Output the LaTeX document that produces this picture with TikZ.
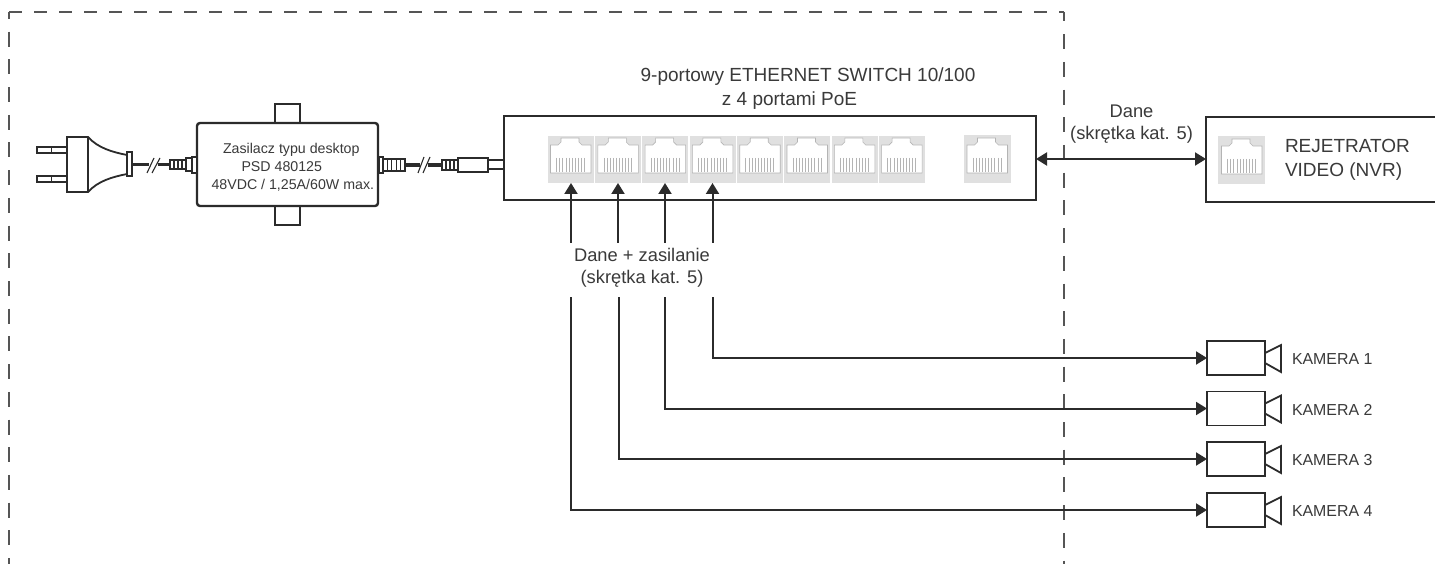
\documentclass[tikz,border=0pt]{standalone}
\usepackage{fontspec}
\setmainfont{Liberation Sans}
\usetikzlibrary{arrows.meta,calc}
\definecolor{ink}{HTML}{2B2B2B}
\definecolor{txt}{HTML}{3A3A3A}
\definecolor{dashc}{HTML}{555555}
\definecolor{portbg}{HTML}{E0E0E0}
\definecolor{portln}{HTML}{B4B4B4}
\tikzset{
  x=1pt,y=-1pt,
  every node/.style={inner sep=0pt,outer sep=0pt,text=txt},
  box/.style={draw=ink,line width=2.4pt,fill=white},
  thin box/.style={draw=ink,line width=1.8pt,fill=white},
  wire/.style={draw=ink,line width=2pt},
  arrowed/.style={wire,-{Triangle[length=11pt,width=13pt]}},
  both arrowed/.style={wire,{Triangle[length=11pt,width=13pt]}-{Triangle[length=11pt,width=13pt]}},
  hborder/.style={draw=dashc,line width=1.1pt,dash pattern=on 13pt off 12pt},
  vborder/.style={draw=dashc,line width=1.1pt,dash pattern=on 15pt off 12.7pt},
  label/.style={font=\fontsize{18.3}{22}\selectfont,align=center},
  portcell/.style={draw=none,fill=portbg,minimum width=47pt,minimum height=48pt},
  pics/jack/.style={code={
    \path[fill=white,draw=portln,line width=.6pt]
      (-20,14)--(-20,-14)--(-12.5,-14)--(-9.5,-17)--(-9.5,-21)--(8.5,-21)--(8.5,-17)--(11.5,-14)--(20.5,-14)--(20.5,14)--cycle;
    \foreach \i in {0,...,9} \draw[portln,line width=.6pt] ({-14+\i*3.1},-1)--({-14+\i*3.1},13);
  }},
  cambody/.style={thin box,minimum width=58pt,minimum height=34pt},
  caml/.style={font=\fontsize{15.9}{18}\selectfont,anchor=west},
  psut/.style={font=\fontsize{14.2}{17}\selectfont,anchor=west},
  relief/.style={draw=ink,line width=1.1pt,fill=white},
}
\newcommand{\relief}[5]{% x0 x1 ytop ybot n
  \foreach \k in {1,...,#5}{
    \path[relief] ({#1+(\k-1)*(#2-#1)/#5},#3) rectangle ({#1+\k*(#2-#1)/#5},#4);
  }
}
\begin{document}
\begin{tikzpicture}
\useasboundingbox[fill=white] (0,0) rectangle (1435,564);

% dashed zone
\coordinate (zoneBL) at (9,564);
\coordinate (zoneTL) at (9,12);
\coordinate (zoneTR) at (1064,12);
\coordinate (zoneBR) at (1064,564);
\draw[vborder,dash phase=8pt] (zoneTL) -- (zoneBL);
\draw[hborder] (zoneTL) -- (zoneTR);
\draw[vborder,dash phase=5.5pt] (zoneTR) -- (zoneBR);

% switch
\node[box,anchor=north west,minimum width=532pt,minimum height=84pt] (switch) at (504,116) {};
\foreach \n in {1,...,8}{
  \node[portcell,draw=white,line width=.4pt] (p\n) at ({570.5+(\n-1)*47.3},159) {};
  \pic at (p\n) {jack};
}
\node[portcell] (p9) at (987,159) {};
\pic at (p9) {jack};

% NVR
\path[box] (1437,117) -- (1206,117) -- (1206,202) -- (1437,202);
\coordinate (nvrW) at (1206,159);
\node[portcell] (p10) at (1241.5,160) {};
\pic at (p10) {jack};
\node[anchor=west,align=left,font=\fontsize{19}{24}\selectfont] (nvrT) at (1285,160) {REJETRATOR\\VIDEO (NVR)};

% labels
\node[label,font=\fontsize{19}{24}\selectfont] (title) at (808,77) {9-portowy ETHERNET SWITCH 10/100};
\node[label,font=\fontsize{19}{24}\selectfont] (titleb) at (789.5,101) {z 4 portami PoE};
\node[label] (dane) at (1131.5,124.5) {Dane\\(skrętka kat. 5)};
\node[label] (dz) at (642,267.5) {Dane + zasilanie\\(skrętka kat. 5)};

\draw[both arrowed] (p9 -| switch.east) -- (nvrW);

% cameras
\foreach \n/\y in {1/358,2/408.5,3/459,4/510}{
  \node[cambody] (cam\n) at (1236,\y) {};
  \path[thin box] ($(cam\n.east)+(0,-5)$) -- ($(cam\n.east)+(16,-13)$) -- ($(cam\n.east)+(16,14)$) -- ($(cam\n.east)+(0,5)$) -- cycle;
  \node[caml] (camt\n) at (1292,\y+1) {KAMERA \n};
}
% wires up and to cameras
\coordinate (up1) at (571,243);
\coordinate (up2) at (618,243);
\coordinate (up3) at (665,243);
\coordinate (up4) at (712.5,243);
\coordinate (low1) at (571,297);
\coordinate (low2) at (618.5,297);
\coordinate (low3) at (665,297);
\coordinate (low4) at (712.5,297);
\foreach \n in {1,...,4}{
  \draw[arrowed] (up\n) -- (up\n |- p\n.south);
}
\draw[arrowed] (low4) |- (cam1.west);
\draw[arrowed] (low3) |- (cam2.west);
\draw[arrowed] (low2) |- (cam3.west);
\draw[arrowed] (low1) |- (cam4.west);

% power supply
\path[box,fill=white] (275,123) -- (275,104) -- (300,104) -- (300,123);
\path[box,fill=white] (275,206) -- (275,225) -- (300,225) -- (300,206);
\node[box,rounded corners=3pt,anchor=north west,minimum width=181pt,minimum height=83pt] (psu) at (197,123) {};
\node[psut] (psuA) at (223,150) {Zasilacz typu desktop};
\node[psut] (psuB) at (241.5,167) {PSD 480125};
\node[psut] (psuC) at (211.5,185) {48VDC / 1,25A/60W max.};

% plug
\path[thin box,line width=1.4pt] (37,147) rectangle (67,153);
\path[thin box,line width=1.4pt] (37,176) rectangle (67,182);
\draw[ink,line width=1pt] (51,147)--(51,153) (51,176)--(51,182);
\path[thin box] (67,137) -- (88,137) .. controls (98,148) and (112,152) .. (127,155)
  -- (127,174) .. controls (112,177) and (98,181) .. (88,192) -- (67,192) -- cycle;
\draw[ink,line width=1.4pt] (88,137)--(88,192);
\path[thin box,line width=1.4pt] (127,152) rectangle (132,176);

% cable 1
\coordinate (c1a) at (132,164.5);
\coordinate (c1b) at (149,164.5);
\coordinate (c1c) at (158,164.5);
\coordinate (c1d) at (170,164.5);
\draw[ink,line width=3.4pt] (c1a) -- (c1b);
\draw[ink,line width=3.4pt] (c1c) -- (c1d);
\draw[ink,line width=1.1pt] (147,173)--(154,158) (152,173)--(160,158);
\relief{170}{186}{160}{169}{4}
\path[relief] (186,158) rectangle (192,171);
\path[relief] (192,157) rectangle (197,173);

% cable 2
\path[relief] (379,157) rectangle (383,173);
\relief{383}{405}{159}{171}{5}
\coordinate (c2a) at (405,165);
\coordinate (c2b) at (420,165);
\coordinate (c2c) at (428,165);
\coordinate (c2d) at (442,165);
\draw[ink,line width=3.4pt] (c2a) -- (c2b);
\draw[ink,line width=3.4pt] (c2c) -- (c2d);
\draw[ink,line width=1.1pt] (418,173)--(424,157) (423,173)--(430,157);
\relief{442}{458}{160}{170}{4}
\path[relief] (458,158) rectangle (488,172);
\path[relief] (488,160) rectangle (504,169);
\end{tikzpicture}
\end{document}
